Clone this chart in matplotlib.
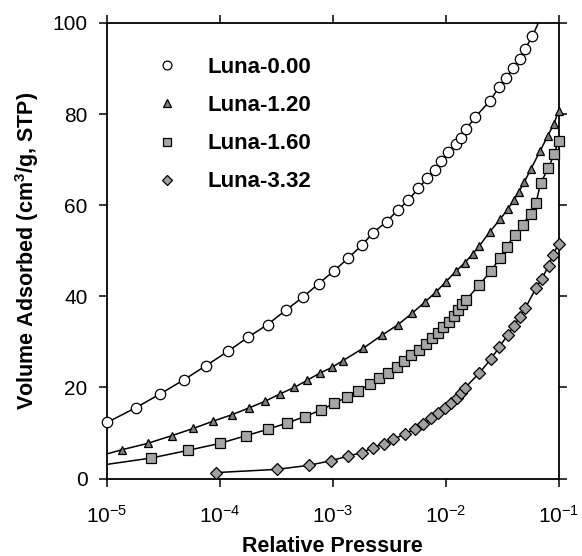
import numpy as np
import matplotlib
matplotlib.use('Agg')
import matplotlib.pyplot as plt
from matplotlib.lines import Line2D
from matplotlib.ticker import FixedLocator, LogFormatterMathtext, NullLocator

plt.rcParams['font.family'] = ['Liberation Sans', 'DejaVu Sans']
plt.rcParams['mathtext.fontset'] = 'custom'
plt.rcParams['mathtext.rm'] = 'Liberation Sans'
plt.rcParams['mathtext.bf'] = 'Liberation Sans:bold'
plt.rcParams['mathtext.it'] = 'Liberation Sans:italic'

# ---- data (log10 of relative pressure, volume adsorbed) ----
labels = ["Luna-0.00", "Luna-1.20", "Luna-1.60", "Luna-3.32"]

lp_000 = [-5.0, -4.747, -4.527, -4.317, -4.121, -3.930, -3.751, -3.578, -3.413,
          -3.265, -3.124, -2.988, -2.862, -2.743, -2.640, -2.523, -2.425, -2.330,
          -2.242, -2.163, -2.098, -2.037, -1.977, -1.911, -1.863, -1.818, -1.736,
          -1.607, -1.525, -1.466, -1.399, -1.345, -1.299, -1.231]
v_000 = [12.3, 15.5, 18.6, 21.7, 24.8, 27.9, 31.0, 33.8, 37.0,
         39.8, 42.8, 45.6, 48.4, 51.2, 54.0, 56.4, 58.9, 61.1,
         63.7, 65.9, 67.8, 69.7, 71.6, 73.4, 74.8, 76.7, 79.4,
         82.9, 86.0, 87.9, 90.2, 92.2, 94.2, 97.1]

lp_120 = [-4.870, -4.641, -4.427, -4.234, -4.059, -3.893, -3.741, -3.596, -3.465,
          -3.340, -3.224, -3.117, -3.007, -2.909, -2.730, -2.568, -2.426, -2.296,
          -2.186, -2.087, -1.997, -1.910, -1.829, -1.760, -1.700, -1.607, -1.518,
          -1.450, -1.396, -1.350, -1.305, -1.245, -1.163, -1.096, -1.041, -1.0]
v_120 = [6.3, 7.7, 9.4, 11.0, 12.6, 14.0, 15.5, 17.0, 18.6,
         20.0, 21.6, 23.1, 24.4, 25.9, 28.6, 31.4, 33.7, 36.3,
         38.7, 40.9, 43.2, 45.5, 47.4, 49.3, 51.1, 54.2, 56.9,
         59.1, 61.1, 63.0, 65.0, 67.9, 71.9, 75.2, 77.8, 80.7]

lp_160 = [-4.607, -4.278, -4.002, -3.768, -3.576, -3.402, -3.248, -3.107, -2.987,
          -2.871, -2.772, -2.668, -2.594, -2.510, -2.435, -2.370, -2.305, -2.236,
          -2.175, -2.117, -2.071, -2.020, -1.972, -1.930, -1.891, -1.855, -1.822,
          -1.702, -1.600, -1.522, -1.460, -1.388, -1.317, -1.248, -1.199, -1.158,
          -1.090, -1.039, -1.0]
v_160 = [4.5, 6.2, 7.7, 9.4, 10.8, 12.2, 13.6, 15.0, 16.5,
         17.9, 19.3, 20.7, 22.0, 23.2, 24.5, 25.8, 27.1, 28.2,
         29.5, 30.8, 31.9, 33.2, 34.4, 35.7, 37.0, 38.2, 39.1,
         42.5, 45.5, 48.3, 50.9, 53.4, 55.7, 58.1, 60.5, 64.9,
         68.1, 71.2, 74.1]

lp_332 = [-4.032, -3.498, -3.209, -3.018, -2.866, -2.742, -2.639, -2.548, -2.468,
          -2.363, -2.275, -2.200, -2.126, -2.065, -2.006, -1.952, -1.901, -1.862,
          -1.832, -1.700, -1.600, -1.526, -1.451, -1.396, -1.345, -1.294, -1.200,
          -1.148, -1.088, -1.048, -1.0]
v_332 = [1.3, 2.0, 2.9, 3.9, 4.9, 5.7, 6.8, 7.6, 8.6,
         9.7, 10.8, 12.0, 13.2, 14.3, 15.4, 16.5, 17.6, 18.7,
         19.8, 23.2, 26.2, 28.8, 31.5, 33.5, 35.4, 37.4, 41.8,
         43.8, 46.7, 49.1, 51.5]

# fitted-curve end points (curves run past the markers)
fit_start_lp = [-5.0, -5.0, -5.0, -4.032]
fit_start_v = [12.3, 5.4, 3.1, 1.3]
fit_end_lp = [-1.17, -1.0, -1.0, -1.0]
fit_end_v = [100.5, 80.7, 74.1, 51.5]

x_ticks = [1e-5, 1e-4, 1e-3, 1e-2, 1e-1]
y_ticks = [0, 20, 40, 60, 80, 100]

markers = ['o', '^', 's', 'D']
msizes = [7.5, 6.0, 6.5, 6.0]
faces = ['white', '#7e7e7e', '#a6a6a6', '#a0a0a0']

fig = plt.figure(figsize=(5.82, 5.56), dpi=100)
W, H = 582, 556
ax = fig.add_axes([107 / W, 1 - 478.5 / H, (558.5 - 107) / W, (478.5 - 23) / H])

all_lp = [lp_000, lp_120, lp_160, lp_332]
all_v = [v_000, v_120, v_160, v_332]
handles = []
for i in range(4):
    lp = np.array(all_lp[i])
    v = np.array(all_v[i])
    line_lp = np.concatenate([[fit_start_lp[i]], lp, [fit_end_lp[i]]])
    line_v = np.concatenate([[fit_start_v[i]], v, [fit_end_v[i]]])
    order = np.argsort(line_lp, kind='stable')
    ax.plot(10 ** line_lp[order], line_v[order], color='black', lw=1.1, zorder=2,
            solid_joinstyle='round')
    ax.plot(10 ** lp, v, linestyle='none', marker=markers[i], ms=msizes[i],
            mfc=faces[i], mec='black', mew=0.9, zorder=3, clip_on=False)
    handles.append(Line2D([], [], linestyle='none', marker=markers[i], ms=msizes[i] * 0.85,
                          mfc=faces[i], mec='black', mew=0.9))

ax.set_xscale('log')
ax.set_xlim(1e-5, 1e-1)
ax.set_ylim(0, 100)
ax.xaxis.set_major_locator(FixedLocator(x_ticks))
ax.xaxis.set_major_formatter(LogFormatterMathtext())
ax.xaxis.set_minor_locator(NullLocator())
ax.yaxis.set_major_locator(FixedLocator(y_ticks))

for s in ax.spines.values():
    s.set_linewidth(1.3)
ax.tick_params(which='major', direction='out', length=6, width=1.1,
               top=True, right=True, labelsize=15, colors='black')
ax.tick_params(axis='y', pad=8)
ax.tick_params(axis='x', pad=13)

ax.set_xlabel('Relative Pressure', fontsize=15.5, fontweight='bold')
ax.set_ylabel(r'Volume Adsorbed (cm$^{\mathbf{3}}$/g, STP)', fontsize=15.5, fontweight='bold')
ax.xaxis.set_label_coords(0.5, -0.126)
ax.yaxis.set_label_coords(-0.146, 0.5)

leg = ax.legend(handles, labels, loc='upper left', bbox_to_anchor=(0.1085, 0.925),
                frameon=False, prop={'weight': 'bold', 'size': 16}, handlelength=1.0,
                handletextpad=1.3, labelspacing=0.77, borderpad=0, borderaxespad=0)

fig.savefig('out.png', dpi=100)
